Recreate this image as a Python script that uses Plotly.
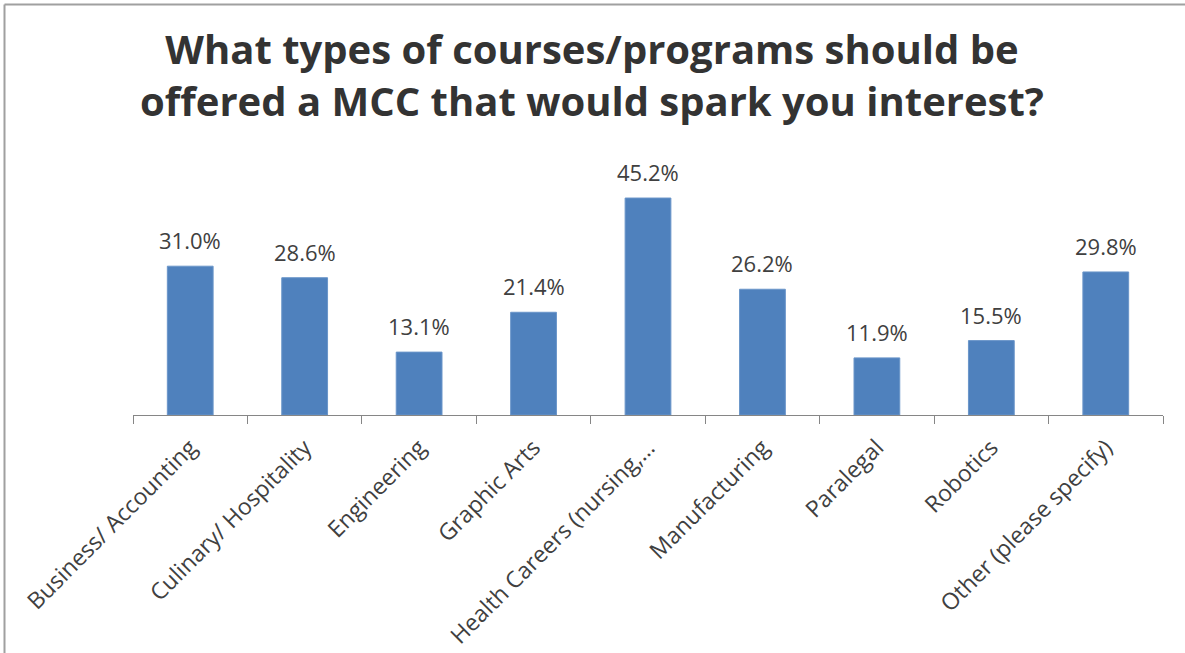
import plotly.graph_objects as go

categories = ["Business/ Accounting", "Culinary/ Hospitality", "Engineering", "Graphic Arts",
              "Health Careers (nursing,…", "Manufacturing", "Paralegal", "Robotics",
              "Other (please specify)"]
values = [31.0, 28.6, 13.1, 21.4, 45.2, 26.2, 11.9, 15.5, 29.8]
labels = [f"{v:.1f}%" for v in values]
title_text = "What types of courses/programs should be<br>offered a MCC that would spark you interest?"

W, H = 1185, 653
L, R, T, B = 133, 22, 175, 238
pw, ph = W - L - R, H - T - B

fig = go.Figure(go.Bar(
    x=categories, y=values,
    marker=dict(color="#4F81BD", line=dict(color="#6a95c9", width=1)),
    width=0.4, hoverinfo="skip",
))

for c, v, t in zip(categories, values, labels):
    fig.add_annotation(x=c, y=v, text=t, showarrow=False, xanchor="center", yanchor="bottom",
                       yshift=9, font=dict(family="Open Sans", size=22, color="#404040"))

def px_x(x):
    return (x - L) / pw

def px_y(y):
    return (H - B - y) / ph

fig.update_layout(
    width=W, height=H,
    margin=dict(l=L, r=R, t=T, b=B),
    paper_bgcolor="white", plot_bgcolor="white",
    showlegend=False,
    title=dict(text=title_text, x=592 / W, xanchor="center", y=1 - 64 / H, yanchor="middle",
               font=dict(family="Open Sans", size=40, color="#333333", weight="bold")),
    xaxis=dict(showline=True, linecolor="#868686", linewidth=1, ticks="outside",
               tickson="boundaries", ticklen=8, tickcolor="#868686", tickangle=-45,
               ticklabelstandoff=9,
               tickfont=dict(family="Open Sans", size=23, color="#404040"),
               showgrid=False, fixedrange=True, automargin=False),
    yaxis=dict(range=[0, 50], visible=False, fixedrange=True),
    shapes=[
        dict(type="line", xref="paper", yref="paper", x0=px_x(4.5), x1=px_x(W + 5),
             y0=px_y(4.5), y1=px_y(4.5), line=dict(color="#a0a0a0", width=2)),
        dict(type="line", xref="paper", yref="paper", x0=px_x(4.5), x1=px_x(4.5),
             y0=px_y(4.5), y1=px_y(H + 5), line=dict(color="#a0a0a0", width=2)),
    ],
)

fig.write_html("out.html", config={"displayModeBar": False},
               post_script="document.body.style.margin='0';")
